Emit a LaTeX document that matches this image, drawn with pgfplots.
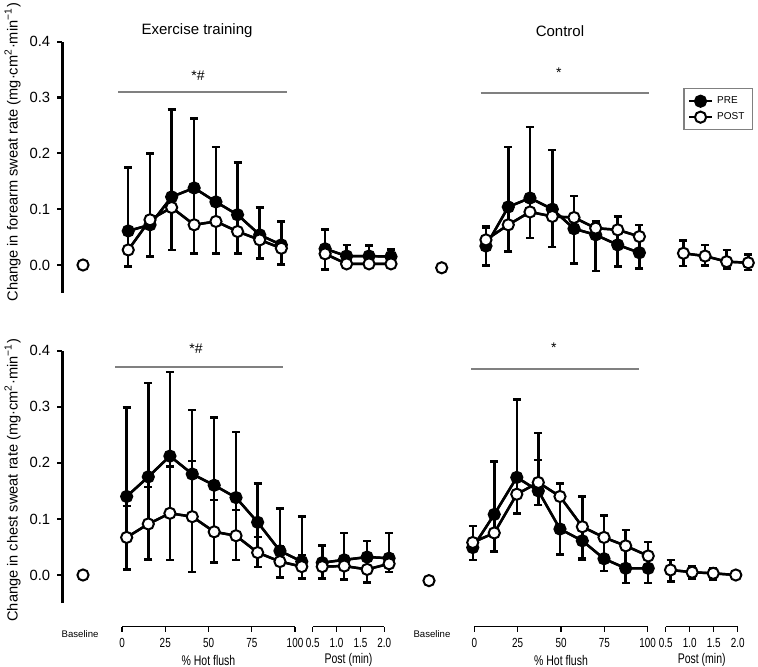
\documentclass[border=0pt]{standalone}
\usepackage{fontspec}
\setmainfont{Liberation Sans}
\newfontfamily\narrowsans[FakeStretch=0.75]{Liberation Sans}
\usepackage{pgfplots}
\pgfplotsset{compat=1.18}
\usepackage{pgfplotstable}

% columns: x, mean, upper error, lower error
\pgfplotstableread{
x y ep em
3.6 0.061 0.114 0.034
16.2 0.072 0 0.057
28.7 0.122 0.157 0.019
41.7 0.138 0.124 0.066
54.3 0.113 0.098 0.035
66.8 0.090 0.094 0.030
79.6 0.054 0.049 0.009
92.1 0.036 0.042 0.006
}\etPreTop
\pgfplotstableread{
x y ep em
3.6 0.027 0 0.030
16.2 0.081 0.119 0.009
28.7 0.103 0 0.076
41.7 0.072 0 0.051
54.3 0.078 0 0.057
66.8 0.060 0 0.039
79.6 0.045 0 0.033
92.1 0.030 0 0.029
}\etPostTop
\pgfplotstableread{
x y ep em
0.76 0.029 0.035 0.009
1.21 0.016 0.020 0.014
1.68 0.016 0.019 0.014
2.14 0.015 0.013 0.013
}\etPreTopP
\pgfplotstableread{
x y ep em
0.76 0.020 0 0.028
1.21 0.002 0 0.004
1.68 0.002 0 0.004
2.14 0.002 0 0.004
}\etPostTopP
\pgfplotstableread{
x y ep em
6.7 0.034 0.033 0.035
19.6 0.104 0.107 0.032
32.1 0.120 0.127 0.025
45.0 0.100 0.106 0.013
57.5 0.065 0 0.062
70.0 0.054 0 0.065
82.7 0.036 0 0.039
95.2 0.022 0 0.028
}\coPreTop
\pgfplotstableread{
x y ep em
6.7 0.045 0.025 0.011
19.6 0.072 0 0.048
32.1 0.095 0 0.047
45.0 0.087 0 0.055
57.5 0.085 0.039 0.020
70.0 0.066 0.012 0.012
82.7 0.063 0.024 0.027
95.2 0.051 0.021 0.029
}\coPostTop
\pgfplotstableread{
x y ep em
0.87 0.021 0.023 0.023
1.32 0.016 0.020 0.017
1.77 0.006 0.021 0.012
2.22 0.004 0.015 0.013
}\coPostTopP
\pgfplotstableread{
x y ep em
2.7 0.140 0.159 0.073
15.2 0.175 0.167 0.084
27.7 0.212 0.150 0.102
40.6 0.180 0.114 0.076
53.3 0.160 0.121 0.083
65.9 0.138 0.117 0.068
78.4 0.094 0.069 0.054
91.3 0.043 0.076 0.019
103.9 0.024 0.080 0.009
}\etPreBot
\pgfplotstableread{
x y ep em
2.7 0.067 0.056 0.057
15.2 0.091 0.066 0.063
27.7 0.110 0.083 0.083
40.6 0.104 0.099 0.099
53.3 0.077 0.057 0.055
65.9 0.070 0.046 0.043
78.4 0.040 0.028 0.026
91.3 0.024 0.028 0.028
103.9 0.015 0.021 0.021
}\etPostBot
\pgfplotstableread{
x y ep em
0.70 0.022 0.031 0.007
1.16 0.027 0.048 0.011
1.64 0.032 0.029 0.022
2.10 0.030 0.045 0.010
}\etPreBotP
\pgfplotstableread{
x y ep em
0.70 0.015 0 0.021
1.16 0.016 0 0.024
1.64 0.010 0 0.023
2.10 0.020 0 0.015
}\etPostBotP
\pgfplotstableread{
x y ep em
-0.9 0.049 0 0.022
11.5 0.108 0.094 0.033
24.5 0.174 0.139 0.030
36.9 0.150 0.055 0.025
49.4 0.082 0 0.045
62.3 0.061 0 0.034
74.8 0.029 0 0.022
87.3 0.012 0 0.026
100.3 0.012 0 0.026
}\coPreBot
\pgfplotstableread{
x y ep em
-0.9 0.058 0.029 0.009
11.5 0.075 0 0.033
24.5 0.144 0 0.034
36.9 0.165 0.088 0.015
49.4 0.140 0.023 0.058
62.3 0.086 0.054 0.056
74.8 0.067 0.039 0.038
87.3 0.052 0.028 0.040
100.3 0.034 0.025 0.022
}\coPostBot
\pgfplotstableread{
x y ep em
0.60 0.009 0.018 0.021
1.05 0.005 0.011 0.011
1.49 0.003 0.009 0.011
1.96 0.000 0 0
}\coPostBotP

\tikzset{
  sig/.style={gray, line width=0.65pt},
  ttl/.style={font=\fontsize{7.5}{9}\selectfont, anchor=center},
}
\pgfplotsset{
  panel/.style={scale only axis, enlargelimits=false, clip=false,
    /pgf/number format/assume math mode=true},
  toprow/.style={panel, ymin=-0.05, ymax=0.4, height=125.6pt},
  botrow/.style={panel, ymin=-0.05, ymax=0.4, height=126.225pt},
  botaxis/.style={panel, ymin=-0.09216, ymax=0.4, height=138.05pt,
    axis x line=bottom, axis y line=none,
    axis line style={-, line width=0.6pt},
    tick align=outside, major tick length=2.5pt,
    xtick style={line width=0.6pt, black},
    xticklabel style={font=\narrowsans\fontsize{6.6}{8}\selectfont},
    xlabel style={at={(axis description cs:0.5,0)}, anchor=center,
      yshift=-16.7pt, font=\narrowsans\fontsize{7}{8}\selectfont}},
  yaxis/.style={axis lines=left,
    x axis line style={draw=none}, xtick=\empty,
    y axis line style={-, line width=1.5pt, black},
    ytick={0,0.1,0.2,0.3,0.4}, tick align=outside,
    major tick length=2.4pt,
    tick style={line width=1.1pt, black},
    yticklabel style={font=\fontsize{7.4}{8}\selectfont,
      /pgf/number format/.cd, fixed, fixed zerofill, precision=1},
    ylabel style={anchor=center, font=\fontsize{7.3}{9}\selectfont}},
  errs/.style={black, line width=1.25pt, mark=none, forget plot,
    error bars/.cd, y dir=both, y explicit,
    error bar style={black, line width=1.25pt},
    error mark=-, error mark options={black, line width=1.25pt, mark size=2pt, rotate=90}},
  pre/.style={black, line width=1.2pt, mark=*, mark size=2.8pt,
    mark options={fill=black, line width=1pt}},
  post/.style={black, line width=1.2pt, mark=*, mark size=2.8pt,
    mark options={fill=white, line width=1pt}},
}
\newcommand{\errs}[1]{\addplot[errs] table[x=x, y=y, y error plus=ep, y error minus=em]{#1};}
% short tick strokes on the left y axis
\newcommand{\yticks}{\pgfplotsinvokeforeach{0,0.1,0.2,0.3,0.4}{%
  \draw[line width=1.1pt] (axis cs:0,##1) -- ++(-2.6pt,0pt);}}

\begin{document}
\begin{tikzpicture}
\useasboundingbox (0,0) rectangle (379pt,333pt);

%% ---------- top row: forearm ----------
\begin{axis}[toprow, yaxis, at={(31pt,186.55pt)}, anchor=south west,
  width=21pt, xmin=0, xmax=1,
  ylabel={Change in forearm sweat rate (mg·cm\textsuperscript{2}·min\textsuperscript{−1})},
  ylabel style={at={(axis description cs:-1.179,0.56)}}]
\yticks
\addplot[post, only marks] coordinates {(0.5,0)};
\end{axis}

\begin{axis}[toprow, axis lines=none, at={(61pt,186.55pt)}, anchor=south west,
  width=86.5pt, xmin=0, xmax=100,
  title={Exercise training},
  title style={ttl, at={(axis description cs:0.434,1)}, yshift=-0.6pt}]
\draw[sig] (axis cs:-2.3,0.31) -- (axis cs:95.4,0.31);
\node[font=\fontsize{7}{8}\selectfont, anchor=base] at (axis cs:43.9,0.331) {*\#};
\errs{\etPreTop}
\addplot[pre] table[x=x, y=y]{\etPreTop};
\errs{\etPostTop}
\addplot[post] table[x=x, y=y]{\etPostTop};
\end{axis}

\begin{axis}[toprow, axis lines=none, at={(156.35pt,186.55pt)}, anchor=south west,
  width=35.8pt, xmin=0.5, xmax=2]
\errs{\etPreTopP}
\addplot[pre] table[x=x, y=y]{\etPreTopP};
\errs{\etPostTopP}
\addplot[post] table[x=x, y=y]{\etPostTopP};
\end{axis}

\begin{axis}[toprow, axis lines=none, at={(202.5pt,186.55pt)}, anchor=south west,
  width=27.5pt, xmin=0, xmax=1]
\addplot[post, only marks] coordinates {(0.667,-0.005)};
\end{axis}

\begin{axis}[toprow, axis lines=none, at={(237.15pt,186.55pt)}, anchor=south west,
  width=86.7pt, xmin=0, xmax=100,
  title={Control},
  title style={ttl, at={(axis description cs:0.494,1)}, yshift=-0.6pt},
  legend style={at={(axis description cs:1.204,0.816)}, anchor=north west,
    draw=gray, line width=0.75pt, font=\fontsize{5}{6}\selectfont,
    inner xsep=2pt, inner ysep=1.8pt, row sep=-1pt, cells={anchor=west}},
  legend image code/.code={\draw[mark repeat=2, mark phase=2, #1]
    plot coordinates {(0pt,0pt) (5.75pt,0pt) (11.5pt,0pt)};}]
\draw[sig] (axis cs:3.7,0.308) -- (axis cs:100.6,0.308);
\node[font=\fontsize{7}{8}\selectfont, anchor=base] at (axis cs:48.7,0.335) {*};
\errs{\coPreTop}
\addplot[pre] table[x=x, y=y]{\coPreTop};
\addlegendentry{PRE}
\errs{\coPostTop}
\addplot[post] table[x=x, y=y]{\coPostTop};
\addlegendentry{POST}
\end{axis}

\begin{axis}[toprow, axis lines=none, at={(332.85pt,186.55pt)}, anchor=south west,
  width=36pt, xmin=0.5, xmax=2]
\errs{\coPostTopP}
\addplot[post] table[x=x, y=y]{\coPostTopP};
\end{axis}

%% ---------- bottom row: chest ----------
\begin{axis}[botrow, yaxis, at={(31pt,31.475pt)}, anchor=south west,
  width=21pt, xmin=0, xmax=1,
  ylabel={Change in chest sweat rate (mg·cm\textsuperscript{2}·min\textsuperscript{−1})},
  ylabel style={at={(axis description cs:-1.179,0.487)}}]
\yticks
\addplot[post, only marks] coordinates {(0.5,0)};
\node[font=\fontsize{4.8}{5}\selectfont] at (axis cs:0.43,-0.05) [yshift=-15.5pt] {Baseline};
\end{axis}

\begin{axis}[botaxis, at={(61pt,19.65pt)}, anchor=south west,
  width=86.5pt, xmin=0, xmax=100, xtick={0,25,50,75,100},
  xlabel={\% Hot flush}]
\draw[sig] (axis cs:-4,0.371) -- (axis cs:93.1,0.371);
\node[font=\fontsize{7}{8}\selectfont, anchor=base] at (axis cs:42.8,0.394) {*\#};
\errs{\etPreBot}
\addplot[pre] table[x=x, y=y]{\etPreBot};
\errs{\etPostBot}
\addplot[post] table[x=x, y=y]{\etPostBot};
\end{axis}

\begin{axis}[botaxis, at={(156.35pt,19.65pt)}, anchor=south west,
  width=35.8pt, xmin=0.5, xmax=2, xtick={0.5,1,1.5,2},
  xticklabels={0.5,1.0,1.5,2.0}, xlabel={Post (min)}]
\errs{\etPreBotP}
\addplot[pre] table[x=x, y=y]{\etPreBotP};
\errs{\etPostBotP}
\addplot[post] table[x=x, y=y]{\etPostBotP};
\end{axis}

\begin{axis}[botrow, axis lines=none, at={(202.5pt,31.475pt)}, anchor=south west,
  width=27.5pt, xmin=0, xmax=1]
\addplot[post, only marks] coordinates {(0.436,-0.010)};
\node[font=\fontsize{4.8}{5}\selectfont] at (axis cs:0.49,-0.05) [yshift=-15.5pt] {Baseline};
\end{axis}

\begin{axis}[botaxis, at={(237.15pt,19.65pt)}, anchor=south west,
  width=86.7pt, xmin=0, xmax=100, xtick={0,25,50,75,100},
  xlabel={\% Hot flush}]
\draw[sig] (axis cs:-1.9,0.367) -- (axis cs:94.9,0.367);
\node[font=\fontsize{7}{8}\selectfont, anchor=base] at (axis cs:45.8,0.396) {*};
\errs{\coPreBot}
\addplot[pre] table[x=x, y=y]{\coPreBot};
\errs{\coPostBot}
\addplot[post] table[x=x, y=y]{\coPostBot};
\end{axis}

\begin{axis}[botaxis, at={(332.85pt,19.65pt)}, anchor=south west,
  width=36pt, xmin=0.5, xmax=2, xtick={0.5,1,1.5,2},
  xticklabels={0.5,1.0,1.5,2.0}, xlabel={Post (min)}]
\errs{\coPostBotP}
\addplot[post] table[x=x, y=y]{\coPostBotP};
\end{axis}
\end{tikzpicture}
\end{document}
